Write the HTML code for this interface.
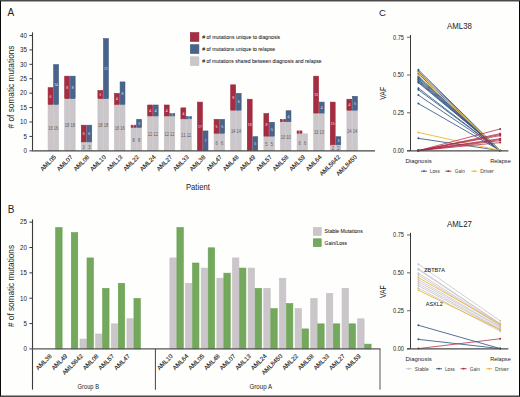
<!DOCTYPE html>
<html><head><meta charset="utf-8"><style>
html,body{margin:0;padding:0;background:#fefefd;}
body{width:520px;height:397px;overflow:hidden;}
svg{display:block;font-family:"Liberation Sans", sans-serif;}
</style></head><body>
<svg width="520" height="397" viewBox="0 0 520 397">
<rect width="520" height="397" fill="#fefefd"/>
<text x="7.40" y="15.60" font-size="10" fill="#222"  text-anchor="start" >A</text>
<line x1="32.5" y1="32.4" x2="32.5" y2="150.3" stroke="#3a3a3a" stroke-width="1.1"/>
<line x1="29.4" y1="150.85" x2="32.4" y2="150.85" stroke="#3a3a3a" stroke-width="1"/>
<text x="27.00" y="153.15" font-size="6.4" fill="#222"  text-anchor="end" textLength="3.45" lengthAdjust="spacingAndGlyphs">0</text>
<line x1="29.4" y1="136.43" x2="32.4" y2="136.43" stroke="#3a3a3a" stroke-width="1"/>
<text x="27.00" y="138.73" font-size="6.4" fill="#222"  text-anchor="end" textLength="3.45" lengthAdjust="spacingAndGlyphs">5</text>
<line x1="29.4" y1="122.01" x2="32.4" y2="122.01" stroke="#3a3a3a" stroke-width="1"/>
<text x="27.00" y="124.31" font-size="6.4" fill="#222"  text-anchor="end" textLength="6.90" lengthAdjust="spacingAndGlyphs">10</text>
<line x1="29.4" y1="107.59" x2="32.4" y2="107.59" stroke="#3a3a3a" stroke-width="1"/>
<text x="27.00" y="109.89" font-size="6.4" fill="#222"  text-anchor="end" textLength="6.90" lengthAdjust="spacingAndGlyphs">15</text>
<line x1="29.4" y1="93.17" x2="32.4" y2="93.17" stroke="#3a3a3a" stroke-width="1"/>
<text x="27.00" y="95.47" font-size="6.4" fill="#222"  text-anchor="end" textLength="6.90" lengthAdjust="spacingAndGlyphs">20</text>
<line x1="29.4" y1="78.75" x2="32.4" y2="78.75" stroke="#3a3a3a" stroke-width="1"/>
<text x="27.00" y="81.05" font-size="6.4" fill="#222"  text-anchor="end" textLength="6.90" lengthAdjust="spacingAndGlyphs">25</text>
<line x1="29.4" y1="64.33" x2="32.4" y2="64.33" stroke="#3a3a3a" stroke-width="1"/>
<text x="27.00" y="66.63" font-size="6.4" fill="#222"  text-anchor="end" textLength="6.90" lengthAdjust="spacingAndGlyphs">30</text>
<line x1="29.4" y1="49.91" x2="32.4" y2="49.91" stroke="#3a3a3a" stroke-width="1"/>
<text x="27.00" y="52.21" font-size="6.4" fill="#222"  text-anchor="end" textLength="6.90" lengthAdjust="spacingAndGlyphs">35</text>
<line x1="29.4" y1="35.49" x2="32.4" y2="35.49" stroke="#3a3a3a" stroke-width="1"/>
<text x="27.00" y="37.79" font-size="6.4" fill="#222"  text-anchor="end" textLength="6.90" lengthAdjust="spacingAndGlyphs">40</text>
<text transform="translate(14.3,87) rotate(-90)" font-size="8.2" fill="#222" text-anchor="middle" textLength="83" lengthAdjust="spacingAndGlyphs">#&#160;of somatic mutations</text>
<rect x="48.10" y="105.01" width="4.85" height="45.54" fill="#cbc6ca" stroke="#c4bfc3" stroke-width="0.6"/>
<text x="50.52" y="130.08" font-size="5.1" fill="#5e595c"  text-anchor="middle" textLength="4.5" lengthAdjust="spacingAndGlyphs">16</text>
<rect x="53.70" y="105.01" width="4.85" height="45.54" fill="#cbc6ca" stroke="#c4bfc3" stroke-width="0.6"/>
<text x="56.12" y="130.08" font-size="5.1" fill="#5e595c"  text-anchor="middle" textLength="4.5" lengthAdjust="spacingAndGlyphs">16</text>
<rect x="48.10" y="87.70" width="4.85" height="16.70" fill="#a52d42" stroke="#982236" stroke-width="0.6"/>
<text x="50.52" y="97.55" font-size="4.3" fill="#ecc8ce" stroke="#ecc8ce" stroke-width="0.08" text-anchor="middle" textLength="1.9" lengthAdjust="spacingAndGlyphs">6</text>
<rect x="53.70" y="64.63" width="4.85" height="39.78" fill="#4a638a" stroke="#3d5880" stroke-width="0.6"/>
<text x="56.12" y="86.02" font-size="4.3" fill="#c8d3e2" stroke="#c8d3e2" stroke-width="0.08" text-anchor="middle" textLength="3.8" lengthAdjust="spacingAndGlyphs">14</text>
<text transform="translate(56.55,157.6) rotate(-45)" font-size="6.2" fill="#222" stroke="#222" stroke-width="0.12" text-anchor="end">AML05</text>
<rect x="64.70" y="99.24" width="4.85" height="51.31" fill="#cbc6ca" stroke="#c4bfc3" stroke-width="0.6"/>
<text x="67.12" y="127.19" font-size="5.1" fill="#5e595c"  text-anchor="middle" textLength="4.5" lengthAdjust="spacingAndGlyphs">18</text>
<rect x="70.30" y="99.24" width="4.85" height="51.31" fill="#cbc6ca" stroke="#c4bfc3" stroke-width="0.6"/>
<text x="72.72" y="127.19" font-size="5.1" fill="#5e595c"  text-anchor="middle" textLength="4.5" lengthAdjust="spacingAndGlyphs">18</text>
<rect x="64.70" y="76.17" width="4.85" height="22.47" fill="#a52d42" stroke="#982236" stroke-width="0.6"/>
<text x="67.12" y="88.90" font-size="4.3" fill="#ecc8ce" stroke="#ecc8ce" stroke-width="0.08" text-anchor="middle" textLength="1.9" lengthAdjust="spacingAndGlyphs">8</text>
<rect x="70.30" y="76.17" width="4.85" height="22.47" fill="#4a638a" stroke="#3d5880" stroke-width="0.6"/>
<text x="72.72" y="88.90" font-size="4.3" fill="#c8d3e2" stroke="#c8d3e2" stroke-width="0.08" text-anchor="middle" textLength="1.9" lengthAdjust="spacingAndGlyphs">8</text>
<text transform="translate(73.15,157.6) rotate(-45)" font-size="6.2" fill="#222" stroke="#222" stroke-width="0.12" text-anchor="end">AML07</text>
<rect x="81.30" y="142.50" width="4.85" height="8.05" fill="#cbc6ca" stroke="#c4bfc3" stroke-width="0.6"/>
<text x="83.72" y="148.82" font-size="5.1" fill="#5e595c"  text-anchor="middle" textLength="2.2" lengthAdjust="spacingAndGlyphs">3</text>
<rect x="86.90" y="142.50" width="4.85" height="8.05" fill="#cbc6ca" stroke="#c4bfc3" stroke-width="0.6"/>
<text x="89.32" y="148.82" font-size="5.1" fill="#5e595c"  text-anchor="middle" textLength="2.2" lengthAdjust="spacingAndGlyphs">3</text>
<rect x="81.30" y="125.19" width="4.85" height="16.70" fill="#a52d42" stroke="#982236" stroke-width="0.6"/>
<text x="83.72" y="135.05" font-size="4.3" fill="#ecc8ce" stroke="#ecc8ce" stroke-width="0.08" text-anchor="middle" textLength="1.9" lengthAdjust="spacingAndGlyphs">6</text>
<rect x="86.90" y="125.19" width="4.85" height="16.70" fill="#4a638a" stroke="#3d5880" stroke-width="0.6"/>
<text x="89.32" y="135.05" font-size="4.3" fill="#c8d3e2" stroke="#c8d3e2" stroke-width="0.08" text-anchor="middle" textLength="1.9" lengthAdjust="spacingAndGlyphs">6</text>
<text transform="translate(89.75,157.6) rotate(-45)" font-size="6.2" fill="#222" stroke="#222" stroke-width="0.12" text-anchor="end">AML08</text>
<rect x="97.90" y="99.24" width="4.85" height="51.31" fill="#cbc6ca" stroke="#c4bfc3" stroke-width="0.6"/>
<text x="100.32" y="127.19" font-size="5.1" fill="#5e595c"  text-anchor="middle" textLength="4.5" lengthAdjust="spacingAndGlyphs">18</text>
<rect x="103.50" y="99.24" width="4.85" height="51.31" fill="#cbc6ca" stroke="#c4bfc3" stroke-width="0.6"/>
<text x="105.92" y="127.19" font-size="5.1" fill="#5e595c"  text-anchor="middle" textLength="4.5" lengthAdjust="spacingAndGlyphs">18</text>
<rect x="97.90" y="90.59" width="4.85" height="8.05" fill="#a52d42" stroke="#982236" stroke-width="0.6"/>
<text x="100.32" y="96.11" font-size="4.3" fill="#ecc8ce" stroke="#ecc8ce" stroke-width="0.08" text-anchor="middle" textLength="1.9" lengthAdjust="spacingAndGlyphs">3</text>
<rect x="103.50" y="38.67" width="4.85" height="59.96" fill="#4a638a" stroke="#3d5880" stroke-width="0.6"/>
<text x="105.92" y="70.16" font-size="4.3" fill="#c8d3e2" stroke="#c8d3e2" stroke-width="0.08" text-anchor="middle" textLength="3.8" lengthAdjust="spacingAndGlyphs">21</text>
<text transform="translate(106.35,157.6) rotate(-45)" font-size="6.2" fill="#222" stroke="#222" stroke-width="0.12" text-anchor="end">AML10</text>
<rect x="114.50" y="105.01" width="4.85" height="45.54" fill="#cbc6ca" stroke="#c4bfc3" stroke-width="0.6"/>
<text x="116.92" y="130.08" font-size="5.1" fill="#5e595c"  text-anchor="middle" textLength="4.5" lengthAdjust="spacingAndGlyphs">16</text>
<rect x="120.10" y="105.01" width="4.85" height="45.54" fill="#cbc6ca" stroke="#c4bfc3" stroke-width="0.6"/>
<text x="122.52" y="130.08" font-size="5.1" fill="#5e595c"  text-anchor="middle" textLength="4.5" lengthAdjust="spacingAndGlyphs">16</text>
<rect x="114.50" y="93.47" width="4.85" height="10.94" fill="#a52d42" stroke="#982236" stroke-width="0.6"/>
<text x="116.92" y="100.44" font-size="4.3" fill="#ecc8ce" stroke="#ecc8ce" stroke-width="0.08" text-anchor="middle" textLength="1.9" lengthAdjust="spacingAndGlyphs">4</text>
<rect x="120.10" y="81.93" width="4.85" height="22.47" fill="#4a638a" stroke="#3d5880" stroke-width="0.6"/>
<text x="122.52" y="94.67" font-size="4.3" fill="#c8d3e2" stroke="#c8d3e2" stroke-width="0.08" text-anchor="middle" textLength="1.9" lengthAdjust="spacingAndGlyphs">8</text>
<text transform="translate(122.95,157.6) rotate(-45)" font-size="6.2" fill="#222" stroke="#222" stroke-width="0.12" text-anchor="end">AML13</text>
<rect x="131.10" y="128.08" width="4.85" height="22.47" fill="#cbc6ca" stroke="#c4bfc3" stroke-width="0.6"/>
<text x="133.53" y="141.61" font-size="5.1" fill="#5e595c"  text-anchor="middle" textLength="2.2" lengthAdjust="spacingAndGlyphs">8</text>
<rect x="136.70" y="128.08" width="4.85" height="22.47" fill="#cbc6ca" stroke="#c4bfc3" stroke-width="0.6"/>
<text x="139.12" y="141.61" font-size="5.1" fill="#5e595c"  text-anchor="middle" textLength="2.2" lengthAdjust="spacingAndGlyphs">8</text>
<rect x="131.10" y="125.19" width="4.85" height="2.28" fill="#a52d42" stroke="#982236" stroke-width="0.6"/>
<text x="133.53" y="127.84" font-size="4.3" fill="#ecc8ce" stroke="#ecc8ce" stroke-width="0.08" text-anchor="middle" textLength="1.9" lengthAdjust="spacingAndGlyphs">1</text>
<rect x="136.70" y="119.43" width="4.85" height="8.05" fill="#4a638a" stroke="#3d5880" stroke-width="0.6"/>
<text x="139.12" y="124.95" font-size="4.3" fill="#c8d3e2" stroke="#c8d3e2" stroke-width="0.08" text-anchor="middle" textLength="1.9" lengthAdjust="spacingAndGlyphs">3</text>
<text transform="translate(139.55,157.6) rotate(-45)" font-size="6.2" fill="#222" stroke="#222" stroke-width="0.12" text-anchor="end">AML22</text>
<rect x="147.70" y="116.54" width="4.85" height="34.01" fill="#cbc6ca" stroke="#c4bfc3" stroke-width="0.6"/>
<text x="150.12" y="135.85" font-size="5.1" fill="#5e595c"  text-anchor="middle" textLength="4.5" lengthAdjust="spacingAndGlyphs">12</text>
<rect x="153.30" y="116.54" width="4.85" height="34.01" fill="#cbc6ca" stroke="#c4bfc3" stroke-width="0.6"/>
<text x="155.72" y="135.85" font-size="5.1" fill="#5e595c"  text-anchor="middle" textLength="4.5" lengthAdjust="spacingAndGlyphs">12</text>
<rect x="147.70" y="105.01" width="4.85" height="10.94" fill="#a52d42" stroke="#982236" stroke-width="0.6"/>
<text x="150.12" y="111.97" font-size="4.3" fill="#ecc8ce" stroke="#ecc8ce" stroke-width="0.08" text-anchor="middle" textLength="1.9" lengthAdjust="spacingAndGlyphs">4</text>
<rect x="153.30" y="105.01" width="4.85" height="10.94" fill="#4a638a" stroke="#3d5880" stroke-width="0.6"/>
<text x="155.72" y="111.97" font-size="4.3" fill="#c8d3e2" stroke="#c8d3e2" stroke-width="0.08" text-anchor="middle" textLength="1.9" lengthAdjust="spacingAndGlyphs">4</text>
<text transform="translate(156.15,157.6) rotate(-45)" font-size="6.2" fill="#222" stroke="#222" stroke-width="0.12" text-anchor="end">AML24</text>
<rect x="164.30" y="116.54" width="4.85" height="34.01" fill="#cbc6ca" stroke="#c4bfc3" stroke-width="0.6"/>
<text x="166.72" y="135.85" font-size="5.1" fill="#5e595c"  text-anchor="middle" textLength="4.5" lengthAdjust="spacingAndGlyphs">12</text>
<rect x="169.90" y="116.54" width="4.85" height="34.01" fill="#cbc6ca" stroke="#c4bfc3" stroke-width="0.6"/>
<text x="172.32" y="135.85" font-size="5.1" fill="#5e595c"  text-anchor="middle" textLength="4.5" lengthAdjust="spacingAndGlyphs">12</text>
<rect x="164.30" y="105.01" width="4.85" height="10.94" fill="#a52d42" stroke="#982236" stroke-width="0.6"/>
<text x="166.72" y="111.97" font-size="4.3" fill="#ecc8ce" stroke="#ecc8ce" stroke-width="0.08" text-anchor="middle" textLength="1.9" lengthAdjust="spacingAndGlyphs">4</text>
<rect x="169.90" y="113.66" width="4.85" height="2.28" fill="#4a638a" stroke="#3d5880" stroke-width="0.6"/>
<text x="172.32" y="116.30" font-size="4.3" fill="#c8d3e2" stroke="#c8d3e2" stroke-width="0.08" text-anchor="middle" textLength="1.9" lengthAdjust="spacingAndGlyphs">1</text>
<text transform="translate(172.75,157.6) rotate(-45)" font-size="6.2" fill="#222" stroke="#222" stroke-width="0.12" text-anchor="end">AML27</text>
<rect x="180.90" y="119.43" width="4.85" height="31.12" fill="#cbc6ca" stroke="#c4bfc3" stroke-width="0.6"/>
<text x="183.33" y="137.29" font-size="5.1" fill="#5e595c"  text-anchor="middle" textLength="4.5" lengthAdjust="spacingAndGlyphs">11</text>
<rect x="186.50" y="119.43" width="4.85" height="31.12" fill="#cbc6ca" stroke="#c4bfc3" stroke-width="0.6"/>
<text x="188.93" y="137.29" font-size="5.1" fill="#5e595c"  text-anchor="middle" textLength="4.5" lengthAdjust="spacingAndGlyphs">11</text>
<rect x="180.90" y="107.89" width="4.85" height="10.94" fill="#a52d42" stroke="#982236" stroke-width="0.6"/>
<text x="183.33" y="114.86" font-size="4.3" fill="#ecc8ce" stroke="#ecc8ce" stroke-width="0.08" text-anchor="middle" textLength="1.9" lengthAdjust="spacingAndGlyphs">4</text>
<rect x="186.50" y="116.54" width="4.85" height="2.28" fill="#4a638a" stroke="#3d5880" stroke-width="0.6"/>
<text x="188.93" y="119.18" font-size="4.3" fill="#c8d3e2" stroke="#c8d3e2" stroke-width="0.08" text-anchor="middle" textLength="1.9" lengthAdjust="spacingAndGlyphs">1</text>
<text transform="translate(189.35,157.6) rotate(-45)" font-size="6.2" fill="#222" stroke="#222" stroke-width="0.12" text-anchor="end">AML33</text>
<rect x="197.50" y="102.12" width="4.85" height="48.43" fill="#a52d42" stroke="#982236" stroke-width="0.6"/>
<text x="199.92" y="127.84" font-size="4.3" fill="#ecc8ce" stroke="#ecc8ce" stroke-width="0.08" text-anchor="middle" textLength="3.8" lengthAdjust="spacingAndGlyphs">17</text>
<rect x="203.10" y="130.96" width="4.85" height="19.59" fill="#4a638a" stroke="#3d5880" stroke-width="0.6"/>
<text x="205.52" y="142.26" font-size="4.3" fill="#c8d3e2" stroke="#c8d3e2" stroke-width="0.08" text-anchor="middle" textLength="1.9" lengthAdjust="spacingAndGlyphs">7</text>
<text transform="translate(205.95,157.6) rotate(-45)" font-size="6.2" fill="#222" stroke="#222" stroke-width="0.12" text-anchor="end">AML38</text>
<rect x="214.10" y="133.85" width="4.85" height="16.70" fill="#cbc6ca" stroke="#c4bfc3" stroke-width="0.6"/>
<text x="216.53" y="144.50" font-size="5.1" fill="#5e595c"  text-anchor="middle" textLength="2.2" lengthAdjust="spacingAndGlyphs">6</text>
<rect x="219.70" y="133.85" width="4.85" height="16.70" fill="#cbc6ca" stroke="#c4bfc3" stroke-width="0.6"/>
<text x="222.12" y="144.50" font-size="5.1" fill="#5e595c"  text-anchor="middle" textLength="2.2" lengthAdjust="spacingAndGlyphs">6</text>
<rect x="214.10" y="119.43" width="4.85" height="13.82" fill="#a52d42" stroke="#982236" stroke-width="0.6"/>
<text x="216.53" y="127.84" font-size="4.3" fill="#ecc8ce" stroke="#ecc8ce" stroke-width="0.08" text-anchor="middle" textLength="1.9" lengthAdjust="spacingAndGlyphs">5</text>
<rect x="219.70" y="119.43" width="4.85" height="13.82" fill="#4a638a" stroke="#3d5880" stroke-width="0.6"/>
<text x="222.12" y="127.84" font-size="4.3" fill="#c8d3e2" stroke="#c8d3e2" stroke-width="0.08" text-anchor="middle" textLength="1.9" lengthAdjust="spacingAndGlyphs">5</text>
<text transform="translate(222.55,157.6) rotate(-45)" font-size="6.2" fill="#222" stroke="#222" stroke-width="0.12" text-anchor="end">AML47</text>
<rect x="230.70" y="110.77" width="4.85" height="39.78" fill="#cbc6ca" stroke="#c4bfc3" stroke-width="0.6"/>
<text x="233.13" y="132.96" font-size="5.1" fill="#5e595c"  text-anchor="middle" textLength="4.5" lengthAdjust="spacingAndGlyphs">14</text>
<rect x="236.30" y="110.77" width="4.85" height="39.78" fill="#cbc6ca" stroke="#c4bfc3" stroke-width="0.6"/>
<text x="238.73" y="132.96" font-size="5.1" fill="#5e595c"  text-anchor="middle" textLength="4.5" lengthAdjust="spacingAndGlyphs">14</text>
<rect x="230.70" y="84.82" width="4.85" height="25.36" fill="#a52d42" stroke="#982236" stroke-width="0.6"/>
<text x="233.13" y="99.00" font-size="4.3" fill="#ecc8ce" stroke="#ecc8ce" stroke-width="0.08" text-anchor="middle" textLength="1.9" lengthAdjust="spacingAndGlyphs">9</text>
<rect x="236.30" y="93.47" width="4.85" height="16.70" fill="#4a638a" stroke="#3d5880" stroke-width="0.6"/>
<text x="238.73" y="103.32" font-size="4.3" fill="#c8d3e2" stroke="#c8d3e2" stroke-width="0.08" text-anchor="middle" textLength="1.9" lengthAdjust="spacingAndGlyphs">6</text>
<text transform="translate(239.15,157.6) rotate(-45)" font-size="6.2" fill="#222" stroke="#222" stroke-width="0.12" text-anchor="end">AML48</text>
<rect x="247.30" y="99.24" width="4.85" height="51.31" fill="#a52d42" stroke="#982236" stroke-width="0.6"/>
<text x="249.72" y="126.39" font-size="4.3" fill="#ecc8ce" stroke="#ecc8ce" stroke-width="0.08" text-anchor="middle" textLength="3.8" lengthAdjust="spacingAndGlyphs">18</text>
<rect x="252.90" y="136.73" width="4.85" height="13.82" fill="#4a638a" stroke="#3d5880" stroke-width="0.6"/>
<text x="255.32" y="145.14" font-size="4.3" fill="#c8d3e2" stroke="#c8d3e2" stroke-width="0.08" text-anchor="middle" textLength="1.9" lengthAdjust="spacingAndGlyphs">5</text>
<text transform="translate(255.75,157.6) rotate(-45)" font-size="6.2" fill="#222" stroke="#222" stroke-width="0.12" text-anchor="end">AML49</text>
<rect x="263.90" y="136.73" width="4.85" height="13.82" fill="#cbc6ca" stroke="#c4bfc3" stroke-width="0.6"/>
<text x="266.33" y="145.94" font-size="5.1" fill="#5e595c"  text-anchor="middle" textLength="2.2" lengthAdjust="spacingAndGlyphs">5</text>
<rect x="269.50" y="136.73" width="4.85" height="13.82" fill="#cbc6ca" stroke="#c4bfc3" stroke-width="0.6"/>
<text x="271.93" y="145.94" font-size="5.1" fill="#5e595c"  text-anchor="middle" textLength="2.2" lengthAdjust="spacingAndGlyphs">5</text>
<rect x="263.90" y="113.66" width="4.85" height="22.47" fill="#a52d42" stroke="#982236" stroke-width="0.6"/>
<text x="266.33" y="126.39" font-size="4.3" fill="#ecc8ce" stroke="#ecc8ce" stroke-width="0.08" text-anchor="middle" textLength="1.9" lengthAdjust="spacingAndGlyphs">8</text>
<rect x="269.50" y="122.31" width="4.85" height="13.82" fill="#4a638a" stroke="#3d5880" stroke-width="0.6"/>
<text x="271.93" y="130.72" font-size="4.3" fill="#c8d3e2" stroke="#c8d3e2" stroke-width="0.08" text-anchor="middle" textLength="1.9" lengthAdjust="spacingAndGlyphs">5</text>
<text transform="translate(272.35,157.6) rotate(-45)" font-size="6.2" fill="#222" stroke="#222" stroke-width="0.12" text-anchor="end">AML57</text>
<rect x="280.50" y="122.31" width="4.85" height="28.24" fill="#cbc6ca" stroke="#c4bfc3" stroke-width="0.6"/>
<text x="282.93" y="138.73" font-size="5.1" fill="#5e595c"  text-anchor="middle" textLength="4.5" lengthAdjust="spacingAndGlyphs">10</text>
<rect x="286.10" y="122.31" width="4.85" height="28.24" fill="#cbc6ca" stroke="#c4bfc3" stroke-width="0.6"/>
<text x="288.53" y="138.73" font-size="5.1" fill="#5e595c"  text-anchor="middle" textLength="4.5" lengthAdjust="spacingAndGlyphs">10</text>
<rect x="280.50" y="119.43" width="4.85" height="2.28" fill="#a52d42" stroke="#982236" stroke-width="0.6"/>
<text x="282.93" y="122.07" font-size="4.3" fill="#ecc8ce" stroke="#ecc8ce" stroke-width="0.08" text-anchor="middle" textLength="1.9" lengthAdjust="spacingAndGlyphs">1</text>
<rect x="286.10" y="110.77" width="4.85" height="10.94" fill="#4a638a" stroke="#3d5880" stroke-width="0.6"/>
<text x="288.53" y="117.74" font-size="4.3" fill="#c8d3e2" stroke="#c8d3e2" stroke-width="0.08" text-anchor="middle" textLength="1.9" lengthAdjust="spacingAndGlyphs">4</text>
<text transform="translate(288.95,157.6) rotate(-45)" font-size="6.2" fill="#222" stroke="#222" stroke-width="0.12" text-anchor="end">AML58</text>
<rect x="297.10" y="133.85" width="4.85" height="16.70" fill="#cbc6ca" stroke="#c4bfc3" stroke-width="0.6"/>
<text x="299.53" y="144.50" font-size="5.1" fill="#5e595c"  text-anchor="middle" textLength="2.2" lengthAdjust="spacingAndGlyphs">6</text>
<rect x="302.70" y="133.85" width="4.85" height="16.70" fill="#cbc6ca" stroke="#c4bfc3" stroke-width="0.6"/>
<text x="305.13" y="144.50" font-size="5.1" fill="#5e595c"  text-anchor="middle" textLength="2.2" lengthAdjust="spacingAndGlyphs">6</text>
<rect x="297.10" y="130.96" width="4.85" height="2.28" fill="#a52d42" stroke="#982236" stroke-width="0.6"/>
<text x="299.53" y="133.60" font-size="4.3" fill="#ecc8ce" stroke="#ecc8ce" stroke-width="0.08" text-anchor="middle" textLength="1.9" lengthAdjust="spacingAndGlyphs">1</text>
<text transform="translate(305.55,157.6) rotate(-45)" font-size="6.2" fill="#222" stroke="#222" stroke-width="0.12" text-anchor="end">AML59</text>
<rect x="313.70" y="113.66" width="4.85" height="36.89" fill="#cbc6ca" stroke="#c4bfc3" stroke-width="0.6"/>
<text x="316.13" y="134.40" font-size="5.1" fill="#5e595c"  text-anchor="middle" textLength="4.5" lengthAdjust="spacingAndGlyphs">13</text>
<rect x="319.30" y="113.66" width="4.85" height="36.89" fill="#cbc6ca" stroke="#c4bfc3" stroke-width="0.6"/>
<text x="321.73" y="134.40" font-size="5.1" fill="#5e595c"  text-anchor="middle" textLength="4.5" lengthAdjust="spacingAndGlyphs">13</text>
<rect x="313.70" y="76.17" width="4.85" height="36.89" fill="#a52d42" stroke="#982236" stroke-width="0.6"/>
<text x="316.13" y="96.11" font-size="4.3" fill="#ecc8ce" stroke="#ecc8ce" stroke-width="0.08" text-anchor="middle" textLength="3.8" lengthAdjust="spacingAndGlyphs">13</text>
<rect x="319.30" y="102.12" width="4.85" height="10.94" fill="#4a638a" stroke="#3d5880" stroke-width="0.6"/>
<text x="321.73" y="109.09" font-size="4.3" fill="#c8d3e2" stroke="#c8d3e2" stroke-width="0.08" text-anchor="middle" textLength="1.9" lengthAdjust="spacingAndGlyphs">4</text>
<text transform="translate(322.15,157.6) rotate(-45)" font-size="6.2" fill="#222" stroke="#222" stroke-width="0.12" text-anchor="end">AML64</text>
<rect x="330.30" y="145.38" width="4.85" height="5.17" fill="#cbc6ca" stroke="#c4bfc3" stroke-width="0.6"/>
<text x="332.73" y="150.27" font-size="5.1" fill="#5e595c"  text-anchor="middle" textLength="2.2" lengthAdjust="spacingAndGlyphs">2</text>
<rect x="335.90" y="145.38" width="4.85" height="5.17" fill="#cbc6ca" stroke="#c4bfc3" stroke-width="0.6"/>
<text x="338.33" y="150.27" font-size="5.1" fill="#5e595c"  text-anchor="middle" textLength="2.2" lengthAdjust="spacingAndGlyphs">2</text>
<rect x="330.30" y="102.12" width="4.85" height="42.66" fill="#a52d42" stroke="#982236" stroke-width="0.6"/>
<text x="332.73" y="124.95" font-size="4.3" fill="#ecc8ce" stroke="#ecc8ce" stroke-width="0.08" text-anchor="middle" textLength="3.8" lengthAdjust="spacingAndGlyphs">15</text>
<rect x="335.90" y="136.73" width="4.85" height="8.05" fill="#4a638a" stroke="#3d5880" stroke-width="0.6"/>
<text x="338.33" y="142.26" font-size="4.3" fill="#c8d3e2" stroke="#c8d3e2" stroke-width="0.08" text-anchor="middle" textLength="1.9" lengthAdjust="spacingAndGlyphs">3</text>
<text transform="translate(340.75,157.6) rotate(-45)" font-size="6.2" fill="#222" stroke="#222" stroke-width="0.12" text-anchor="end">AML5642</text>
<rect x="346.90" y="110.77" width="4.85" height="39.78" fill="#cbc6ca" stroke="#c4bfc3" stroke-width="0.6"/>
<text x="349.33" y="132.96" font-size="5.1" fill="#5e595c"  text-anchor="middle" textLength="4.5" lengthAdjust="spacingAndGlyphs">14</text>
<rect x="352.50" y="110.77" width="4.85" height="39.78" fill="#cbc6ca" stroke="#c4bfc3" stroke-width="0.6"/>
<text x="354.93" y="132.96" font-size="5.1" fill="#5e595c"  text-anchor="middle" textLength="4.5" lengthAdjust="spacingAndGlyphs">14</text>
<rect x="346.90" y="99.24" width="4.85" height="10.94" fill="#a52d42" stroke="#982236" stroke-width="0.6"/>
<text x="349.33" y="106.21" font-size="4.3" fill="#ecc8ce" stroke="#ecc8ce" stroke-width="0.08" text-anchor="middle" textLength="1.9" lengthAdjust="spacingAndGlyphs">4</text>
<rect x="352.50" y="96.35" width="4.85" height="13.82" fill="#4a638a" stroke="#3d5880" stroke-width="0.6"/>
<text x="354.93" y="104.76" font-size="4.3" fill="#c8d3e2" stroke="#c8d3e2" stroke-width="0.08" text-anchor="middle" textLength="1.9" lengthAdjust="spacingAndGlyphs">5</text>
<text transform="translate(357.35,157.6) rotate(-45)" font-size="6.2" fill="#222" stroke="#222" stroke-width="0.12" text-anchor="end">AML8450</text>
<line x1="32" y1="150.85" x2="375" y2="150.85" stroke="#444" stroke-width="1.4"/>
<text x="186.00" y="189.60" font-size="8.4" fill="#222"  text-anchor="start" textLength="23.8" lengthAdjust="spacingAndGlyphs">Patient</text>
<rect x="190.3" y="32.60" width="8.6" height="8.8" fill="#a52d42" stroke="#982236" stroke-width="0.6"/>
<text x="202.20" y="38.90" font-size="5.6" fill="#222" stroke="#222" stroke-width="0.06" text-anchor="start" textLength="78" lengthAdjust="spacingAndGlyphs">#&#160;of mutations unique to diagnosis</text>
<rect x="190.3" y="44.70" width="8.6" height="8.8" fill="#4a638a" stroke="#3d5880" stroke-width="0.6"/>
<text x="202.20" y="51.00" font-size="5.6" fill="#222" stroke="#222" stroke-width="0.06" text-anchor="start" textLength="73" lengthAdjust="spacingAndGlyphs">#&#160;of mutations unique to relapse</text>
<rect x="190.3" y="56.80" width="8.6" height="8.8" fill="#cbc6ca" stroke="#c4bfc3" stroke-width="0.6"/>
<text x="202.20" y="63.10" font-size="5.6" fill="#222" stroke="#222" stroke-width="0.06" text-anchor="start" textLength="119.4" lengthAdjust="spacingAndGlyphs">#&#160;of mutations shared between diagnosis and relapse</text>
<text x="7.80" y="212.60" font-size="10" fill="#222"  text-anchor="start" >B</text>
<line x1="32.5" y1="219.4" x2="32.5" y2="389.6" stroke="#3a3a3a" stroke-width="1.1"/>
<line x1="29.4" y1="348.90" x2="32.4" y2="348.90" stroke="#3a3a3a" stroke-width="1"/>
<text x="27.00" y="351.20" font-size="6.4" fill="#222"  text-anchor="end" textLength="3.45" lengthAdjust="spacingAndGlyphs">0</text>
<line x1="29.4" y1="323.55" x2="32.4" y2="323.55" stroke="#3a3a3a" stroke-width="1"/>
<text x="27.00" y="325.85" font-size="6.4" fill="#222"  text-anchor="end" textLength="3.45" lengthAdjust="spacingAndGlyphs">5</text>
<line x1="29.4" y1="298.20" x2="32.4" y2="298.20" stroke="#3a3a3a" stroke-width="1"/>
<text x="27.00" y="300.50" font-size="6.4" fill="#222"  text-anchor="end" textLength="6.90" lengthAdjust="spacingAndGlyphs">10</text>
<line x1="29.4" y1="272.85" x2="32.4" y2="272.85" stroke="#3a3a3a" stroke-width="1"/>
<text x="27.00" y="275.15" font-size="6.4" fill="#222"  text-anchor="end" textLength="6.90" lengthAdjust="spacingAndGlyphs">15</text>
<line x1="29.4" y1="247.50" x2="32.4" y2="247.50" stroke="#3a3a3a" stroke-width="1"/>
<text x="27.00" y="249.80" font-size="6.4" fill="#222"  text-anchor="end" textLength="6.90" lengthAdjust="spacingAndGlyphs">20</text>
<line x1="29.4" y1="222.15" x2="32.4" y2="222.15" stroke="#3a3a3a" stroke-width="1"/>
<text x="27.00" y="224.45" font-size="6.4" fill="#222"  text-anchor="end" textLength="6.90" lengthAdjust="spacingAndGlyphs">25</text>
<text transform="translate(14.3,286) rotate(-90)" font-size="8.2" fill="#222" text-anchor="middle" textLength="82" lengthAdjust="spacingAndGlyphs">#&#160;of somatic mutations</text>
<rect x="55.70" y="227.52" width="6.40" height="121.38" fill="#74a85c" stroke="#68a04e" stroke-width="0.6"/>
<text transform="translate(52.10,356.6) rotate(-45)" font-size="6.2" fill="#222" stroke="#222" stroke-width="0.12" text-anchor="end">AML38</text>
<rect x="71.35" y="232.59" width="6.40" height="116.31" fill="#74a85c" stroke="#68a04e" stroke-width="0.6"/>
<text transform="translate(67.75,356.6) rotate(-45)" font-size="6.2" fill="#222" stroke="#222" stroke-width="0.12" text-anchor="end">AML49</text>
<rect x="80.00" y="339.06" width="6.40" height="9.84" fill="#cbc6ca" stroke="#c4bfc3" stroke-width="0.6"/>
<rect x="87.00" y="257.94" width="6.40" height="90.96" fill="#74a85c" stroke="#68a04e" stroke-width="0.6"/>
<text transform="translate(83.40,356.6) rotate(-45)" font-size="6.2" fill="#222" stroke="#222" stroke-width="0.12" text-anchor="end">AML5642</text>
<rect x="95.65" y="333.99" width="6.40" height="14.91" fill="#cbc6ca" stroke="#c4bfc3" stroke-width="0.6"/>
<rect x="102.65" y="288.36" width="6.40" height="60.54" fill="#74a85c" stroke="#68a04e" stroke-width="0.6"/>
<text transform="translate(99.05,356.6) rotate(-45)" font-size="6.2" fill="#222" stroke="#222" stroke-width="0.12" text-anchor="end">AML08</text>
<rect x="111.30" y="323.85" width="6.40" height="25.05" fill="#cbc6ca" stroke="#c4bfc3" stroke-width="0.6"/>
<rect x="118.30" y="283.29" width="6.40" height="65.61" fill="#74a85c" stroke="#68a04e" stroke-width="0.6"/>
<text transform="translate(114.70,356.6) rotate(-45)" font-size="6.2" fill="#222" stroke="#222" stroke-width="0.12" text-anchor="end">AML57</text>
<rect x="126.95" y="318.78" width="6.40" height="30.12" fill="#cbc6ca" stroke="#c4bfc3" stroke-width="0.6"/>
<rect x="133.95" y="298.50" width="6.40" height="50.40" fill="#74a85c" stroke="#68a04e" stroke-width="0.6"/>
<text transform="translate(130.35,356.6) rotate(-45)" font-size="6.2" fill="#222" stroke="#222" stroke-width="0.12" text-anchor="end">AML47</text>
<rect x="169.90" y="257.94" width="6.40" height="90.96" fill="#cbc6ca" stroke="#c4bfc3" stroke-width="0.6"/>
<rect x="176.90" y="227.52" width="6.40" height="121.38" fill="#74a85c" stroke="#68a04e" stroke-width="0.6"/>
<text transform="translate(173.30,356.6) rotate(-45)" font-size="6.2" fill="#222" stroke="#222" stroke-width="0.12" text-anchor="end">AML10</text>
<rect x="185.55" y="283.29" width="6.40" height="65.61" fill="#cbc6ca" stroke="#c4bfc3" stroke-width="0.6"/>
<rect x="192.55" y="263.01" width="6.40" height="85.89" fill="#74a85c" stroke="#68a04e" stroke-width="0.6"/>
<text transform="translate(188.95,356.6) rotate(-45)" font-size="6.2" fill="#222" stroke="#222" stroke-width="0.12" text-anchor="end">AML64</text>
<rect x="201.20" y="268.08" width="6.40" height="80.82" fill="#cbc6ca" stroke="#c4bfc3" stroke-width="0.6"/>
<rect x="208.20" y="247.80" width="6.40" height="101.10" fill="#74a85c" stroke="#68a04e" stroke-width="0.6"/>
<text transform="translate(204.60,356.6) rotate(-45)" font-size="6.2" fill="#222" stroke="#222" stroke-width="0.12" text-anchor="end">AML05</text>
<rect x="216.85" y="278.22" width="6.40" height="70.68" fill="#cbc6ca" stroke="#c4bfc3" stroke-width="0.6"/>
<rect x="223.85" y="273.15" width="6.40" height="75.75" fill="#74a85c" stroke="#68a04e" stroke-width="0.6"/>
<text transform="translate(220.25,356.6) rotate(-45)" font-size="6.2" fill="#222" stroke="#222" stroke-width="0.12" text-anchor="end">AML48</text>
<rect x="232.50" y="257.94" width="6.40" height="90.96" fill="#cbc6ca" stroke="#c4bfc3" stroke-width="0.6"/>
<rect x="239.50" y="268.08" width="6.40" height="80.82" fill="#74a85c" stroke="#68a04e" stroke-width="0.6"/>
<text transform="translate(235.90,356.6) rotate(-45)" font-size="6.2" fill="#222" stroke="#222" stroke-width="0.12" text-anchor="end">AML07</text>
<rect x="248.15" y="268.08" width="6.40" height="80.82" fill="#cbc6ca" stroke="#c4bfc3" stroke-width="0.6"/>
<rect x="255.15" y="288.36" width="6.40" height="60.54" fill="#74a85c" stroke="#68a04e" stroke-width="0.6"/>
<text transform="translate(251.55,356.6) rotate(-45)" font-size="6.2" fill="#222" stroke="#222" stroke-width="0.12" text-anchor="end">AML13</text>
<rect x="263.80" y="288.36" width="6.40" height="60.54" fill="#cbc6ca" stroke="#c4bfc3" stroke-width="0.6"/>
<rect x="270.80" y="308.64" width="6.40" height="40.26" fill="#74a85c" stroke="#68a04e" stroke-width="0.6"/>
<text transform="translate(267.20,356.6) rotate(-45)" font-size="6.2" fill="#222" stroke="#222" stroke-width="0.12" text-anchor="end">AML24</text>
<rect x="279.45" y="278.22" width="6.40" height="70.68" fill="#cbc6ca" stroke="#c4bfc3" stroke-width="0.6"/>
<rect x="286.45" y="303.57" width="6.40" height="45.33" fill="#74a85c" stroke="#68a04e" stroke-width="0.6"/>
<text transform="translate(282.85,356.6) rotate(-45)" font-size="6.2" fill="#222" stroke="#222" stroke-width="0.12" text-anchor="end">AML8450</text>
<rect x="295.10" y="308.64" width="6.40" height="40.26" fill="#cbc6ca" stroke="#c4bfc3" stroke-width="0.6"/>
<rect x="302.10" y="328.92" width="6.40" height="19.98" fill="#74a85c" stroke="#68a04e" stroke-width="0.6"/>
<text transform="translate(298.50,356.6) rotate(-45)" font-size="6.2" fill="#222" stroke="#222" stroke-width="0.12" text-anchor="end">AML22</text>
<rect x="310.75" y="298.50" width="6.40" height="50.40" fill="#cbc6ca" stroke="#c4bfc3" stroke-width="0.6"/>
<rect x="317.75" y="323.85" width="6.40" height="25.05" fill="#74a85c" stroke="#68a04e" stroke-width="0.6"/>
<text transform="translate(314.15,356.6) rotate(-45)" font-size="6.2" fill="#222" stroke="#222" stroke-width="0.12" text-anchor="end">AML58</text>
<rect x="326.40" y="293.43" width="6.40" height="55.47" fill="#cbc6ca" stroke="#c4bfc3" stroke-width="0.6"/>
<rect x="333.40" y="323.85" width="6.40" height="25.05" fill="#74a85c" stroke="#68a04e" stroke-width="0.6"/>
<text transform="translate(329.80,356.6) rotate(-45)" font-size="6.2" fill="#222" stroke="#222" stroke-width="0.12" text-anchor="end">AML33</text>
<rect x="342.05" y="288.36" width="6.40" height="60.54" fill="#cbc6ca" stroke="#c4bfc3" stroke-width="0.6"/>
<rect x="349.05" y="323.85" width="6.40" height="25.05" fill="#74a85c" stroke="#68a04e" stroke-width="0.6"/>
<text transform="translate(345.45,356.6) rotate(-45)" font-size="6.2" fill="#222" stroke="#222" stroke-width="0.12" text-anchor="end">AML27</text>
<rect x="357.70" y="318.78" width="6.40" height="30.12" fill="#cbc6ca" stroke="#c4bfc3" stroke-width="0.6"/>
<rect x="364.70" y="344.13" width="6.40" height="4.77" fill="#74a85c" stroke="#68a04e" stroke-width="0.6"/>
<text transform="translate(361.10,356.6) rotate(-45)" font-size="6.2" fill="#222" stroke="#222" stroke-width="0.12" text-anchor="end">AML59</text>
<line x1="32" y1="348.85" x2="380.5" y2="348.85" stroke="#555" stroke-width="1.4"/>
<line x1="155.4" y1="349" x2="155.4" y2="389.8" stroke="#444" stroke-width="1"/>
<line x1="380" y1="349" x2="380" y2="389.6" stroke="#555" stroke-width="1"/>
<text x="88.30" y="389.20" font-size="6.4" fill="#222"  text-anchor="middle" textLength="21.4" lengthAdjust="spacingAndGlyphs">Group B</text>
<text x="260.80" y="389.20" font-size="6.4" fill="#222"  text-anchor="middle" textLength="22.4" lengthAdjust="spacingAndGlyphs">Group A</text>
<rect x="313.3" y="227.5" width="7.9" height="7.8" fill="#cbc6ca" stroke="#c0bbbf" stroke-width="0.6"/>
<rect x="313.3" y="238.8" width="7.9" height="7.8" fill="#74a85c" stroke="#5f9a45" stroke-width="0.6"/>
<text x="324.60" y="233.40" font-size="5.6" fill="#222" stroke="#222" stroke-width="0.06" text-anchor="start" textLength="38.2" lengthAdjust="spacingAndGlyphs">Stable Mutations</text>
<text x="324.60" y="244.60" font-size="5.6" fill="#222" stroke="#222" stroke-width="0.06" text-anchor="start" textLength="22.4" lengthAdjust="spacingAndGlyphs">Gain/Loss</text>
<text x="379.00" y="15.80" font-size="9.6" fill="#222"  text-anchor="start" >C</text>
<text x="459.50" y="29.40" font-size="8.2" fill="#222"  text-anchor="middle" textLength="24.8" lengthAdjust="spacingAndGlyphs">AML38</text>
<line x1="410.5" y1="35.00" x2="410.5" y2="150.90" stroke="#3a3a3a" stroke-width="1"/>
<line x1="407" y1="150.60" x2="410.5" y2="150.60" stroke="#3a3a3a" stroke-width="0.8"/>
<text x="404.00" y="153.00" font-size="6.6" fill="#222"  text-anchor="end" textLength="11.0" lengthAdjust="spacingAndGlyphs">0.00</text>
<line x1="407" y1="112.80" x2="410.5" y2="112.80" stroke="#3a3a3a" stroke-width="0.8"/>
<text x="404.00" y="115.20" font-size="6.6" fill="#222"  text-anchor="end" textLength="11.0" lengthAdjust="spacingAndGlyphs">0.25</text>
<line x1="407" y1="75.00" x2="410.5" y2="75.00" stroke="#3a3a3a" stroke-width="0.8"/>
<text x="404.00" y="77.40" font-size="6.6" fill="#222"  text-anchor="end" textLength="11.0" lengthAdjust="spacingAndGlyphs">0.50</text>
<line x1="407" y1="37.20" x2="410.5" y2="37.20" stroke="#3a3a3a" stroke-width="0.8"/>
<text x="404.00" y="39.60" font-size="6.6" fill="#222"  text-anchor="end" textLength="11.0" lengthAdjust="spacingAndGlyphs">0.75</text>
<text transform="translate(386.2,93.30) rotate(-90)" font-size="8.2" fill="#222" text-anchor="middle" textLength="12.8" lengthAdjust="spacingAndGlyphs">VAF</text>
<line x1="418.4" y1="69.86" x2="500.2" y2="150.60" stroke="#355785" stroke-width="0.85"/>
<circle cx="418.4" cy="69.86" r="1.0" fill="#355785"/>
<circle cx="500.2" cy="150.60" r="1.0" fill="#355785"/>
<line x1="418.4" y1="71.37" x2="500.2" y2="150.60" stroke="#355785" stroke-width="0.85"/>
<circle cx="418.4" cy="71.37" r="1.0" fill="#355785"/>
<circle cx="500.2" cy="150.60" r="1.0" fill="#355785"/>
<line x1="418.4" y1="73.79" x2="500.2" y2="150.60" stroke="#355785" stroke-width="0.85"/>
<circle cx="418.4" cy="73.79" r="1.0" fill="#355785"/>
<circle cx="500.2" cy="150.60" r="1.0" fill="#355785"/>
<line x1="418.4" y1="76.51" x2="500.2" y2="150.60" stroke="#355785" stroke-width="0.85"/>
<circle cx="418.4" cy="76.51" r="1.0" fill="#355785"/>
<circle cx="500.2" cy="150.60" r="1.0" fill="#355785"/>
<line x1="418.4" y1="77.57" x2="500.2" y2="150.60" stroke="#355785" stroke-width="0.85"/>
<circle cx="418.4" cy="77.57" r="1.0" fill="#355785"/>
<circle cx="500.2" cy="150.60" r="1.0" fill="#355785"/>
<line x1="418.4" y1="78.63" x2="500.2" y2="150.60" stroke="#355785" stroke-width="0.85"/>
<circle cx="418.4" cy="78.63" r="1.0" fill="#355785"/>
<circle cx="500.2" cy="150.60" r="1.0" fill="#355785"/>
<line x1="418.4" y1="79.84" x2="500.2" y2="150.60" stroke="#355785" stroke-width="0.85"/>
<circle cx="418.4" cy="79.84" r="1.0" fill="#355785"/>
<circle cx="500.2" cy="150.60" r="1.0" fill="#355785"/>
<line x1="418.4" y1="80.90" x2="500.2" y2="150.60" stroke="#355785" stroke-width="0.85"/>
<circle cx="418.4" cy="80.90" r="1.0" fill="#355785"/>
<circle cx="500.2" cy="150.60" r="1.0" fill="#355785"/>
<line x1="418.4" y1="81.80" x2="500.2" y2="150.60" stroke="#355785" stroke-width="0.85"/>
<circle cx="418.4" cy="81.80" r="1.0" fill="#355785"/>
<circle cx="500.2" cy="150.60" r="1.0" fill="#355785"/>
<line x1="418.4" y1="82.71" x2="500.2" y2="150.60" stroke="#355785" stroke-width="0.85"/>
<circle cx="418.4" cy="82.71" r="1.0" fill="#355785"/>
<circle cx="500.2" cy="150.60" r="1.0" fill="#355785"/>
<line x1="418.4" y1="88.15" x2="500.2" y2="150.60" stroke="#355785" stroke-width="0.85"/>
<circle cx="418.4" cy="88.15" r="1.0" fill="#355785"/>
<circle cx="500.2" cy="150.60" r="1.0" fill="#355785"/>
<line x1="418.4" y1="89.82" x2="500.2" y2="150.60" stroke="#355785" stroke-width="0.85"/>
<circle cx="418.4" cy="89.82" r="1.0" fill="#355785"/>
<circle cx="500.2" cy="150.60" r="1.0" fill="#355785"/>
<line x1="418.4" y1="95.11" x2="500.2" y2="150.60" stroke="#355785" stroke-width="0.85"/>
<circle cx="418.4" cy="95.11" r="1.0" fill="#355785"/>
<circle cx="500.2" cy="150.60" r="1.0" fill="#355785"/>
<line x1="418.4" y1="103.58" x2="500.2" y2="150.60" stroke="#355785" stroke-width="0.85"/>
<circle cx="418.4" cy="103.58" r="1.0" fill="#355785"/>
<circle cx="500.2" cy="150.60" r="1.0" fill="#355785"/>
<line x1="418.4" y1="138.35" x2="500.2" y2="150.60" stroke="#355785" stroke-width="0.85"/>
<circle cx="418.4" cy="138.35" r="1.0" fill="#355785"/>
<circle cx="500.2" cy="150.60" r="1.0" fill="#355785"/>
<line x1="418.4" y1="72.58" x2="500.2" y2="150.60" stroke="#f0b534" stroke-width="0.9"/>
<circle cx="418.4" cy="72.58" r="1.0" fill="#f0b534"/>
<circle cx="500.2" cy="150.60" r="1.0" fill="#f0b534"/>
<line x1="418.4" y1="75.45" x2="500.2" y2="150.60" stroke="#f0b534" stroke-width="0.9"/>
<circle cx="418.4" cy="75.45" r="1.0" fill="#f0b534"/>
<circle cx="500.2" cy="150.60" r="1.0" fill="#f0b534"/>
<line x1="418.4" y1="132.46" x2="500.2" y2="150.60" stroke="#f0b534" stroke-width="0.9"/>
<circle cx="418.4" cy="132.46" r="1.0" fill="#f0b534"/>
<circle cx="500.2" cy="150.60" r="1.0" fill="#f0b534"/>
<line x1="418.4" y1="150.60" x2="500.2" y2="128.98" stroke="#ad2843" stroke-width="0.75"/>
<circle cx="418.4" cy="150.60" r="1.0" fill="#ad2843"/>
<circle cx="500.2" cy="128.98" r="1.0" fill="#ad2843"/>
<line x1="418.4" y1="150.60" x2="500.2" y2="133.67" stroke="#ad2843" stroke-width="0.75"/>
<circle cx="418.4" cy="150.60" r="1.0" fill="#ad2843"/>
<circle cx="500.2" cy="133.67" r="1.0" fill="#ad2843"/>
<line x1="418.4" y1="150.60" x2="500.2" y2="134.57" stroke="#ad2843" stroke-width="0.75"/>
<circle cx="418.4" cy="150.60" r="1.0" fill="#ad2843"/>
<circle cx="500.2" cy="134.57" r="1.0" fill="#ad2843"/>
<line x1="418.4" y1="150.60" x2="500.2" y2="135.63" stroke="#ad2843" stroke-width="0.75"/>
<circle cx="418.4" cy="150.60" r="1.0" fill="#ad2843"/>
<circle cx="500.2" cy="135.63" r="1.0" fill="#ad2843"/>
<line x1="418.4" y1="150.60" x2="500.2" y2="138.66" stroke="#ad2843" stroke-width="0.75"/>
<circle cx="418.4" cy="150.60" r="1.0" fill="#ad2843"/>
<circle cx="500.2" cy="138.66" r="1.0" fill="#ad2843"/>
<line x1="418.4" y1="150.60" x2="500.2" y2="139.56" stroke="#ad2843" stroke-width="0.75"/>
<circle cx="418.4" cy="150.60" r="1.0" fill="#ad2843"/>
<circle cx="500.2" cy="139.56" r="1.0" fill="#ad2843"/>
<line x1="418.4" y1="150.60" x2="500.2" y2="140.62" stroke="#ad2843" stroke-width="0.75"/>
<circle cx="418.4" cy="150.60" r="1.0" fill="#ad2843"/>
<circle cx="500.2" cy="140.62" r="1.0" fill="#ad2843"/>
<line x1="418.4" y1="150.60" x2="500.2" y2="142.59" stroke="#ad2843" stroke-width="0.75"/>
<circle cx="418.4" cy="150.60" r="1.0" fill="#ad2843"/>
<circle cx="500.2" cy="142.59" r="1.0" fill="#ad2843"/>
<line x1="407" y1="150.80" x2="508.4" y2="150.80" stroke="#4a4a4a" stroke-width="1.2"/>
<text x="405.50" y="162.80" font-size="6.2" fill="#222"  text-anchor="start" textLength="26.2" lengthAdjust="spacingAndGlyphs">Diagnosis</text>
<text x="490.20" y="162.80" font-size="6.2" fill="#222"  text-anchor="start" textLength="20.6" lengthAdjust="spacingAndGlyphs">Relapse</text>
<line x1="421" y1="171.20" x2="427" y2="171.20" stroke="#355785" stroke-width="0.9"/>
<circle cx="424" cy="171.20" r="0.9" fill="#355785"/>
<text x="429.80" y="173.00" font-size="5.4" fill="#555" stroke="#555" stroke-width="0.06" text-anchor="start" textLength="10" lengthAdjust="spacingAndGlyphs">Loss</text>
<line x1="445.3" y1="171.20" x2="451.3" y2="171.20" stroke="#ad2843" stroke-width="0.9"/>
<circle cx="448.3" cy="171.20" r="0.9" fill="#ad2843"/>
<text x="454.80" y="173.00" font-size="5.4" fill="#555" stroke="#555" stroke-width="0.06" text-anchor="start" textLength="10" lengthAdjust="spacingAndGlyphs">Gain</text>
<line x1="471.3" y1="171.20" x2="477.3" y2="171.20" stroke="#f0b534" stroke-width="0.9"/>
<circle cx="474.3" cy="171.20" r="0.9" fill="#f0b534"/>
<text x="480.20" y="173.00" font-size="5.4" fill="#555" stroke="#555" stroke-width="0.06" text-anchor="start" textLength="13.6" lengthAdjust="spacingAndGlyphs">Driver</text>
<text x="459.50" y="227.20" font-size="8.2" fill="#222"  text-anchor="middle" textLength="24.8" lengthAdjust="spacingAndGlyphs">AML27</text>
<line x1="410.5" y1="232.78" x2="410.5" y2="348.90" stroke="#3a3a3a" stroke-width="1"/>
<line x1="407" y1="348.60" x2="410.5" y2="348.60" stroke="#3a3a3a" stroke-width="0.8"/>
<text x="404.00" y="351.00" font-size="6.6" fill="#222"  text-anchor="end" textLength="11.0" lengthAdjust="spacingAndGlyphs">0.00</text>
<line x1="407" y1="310.73" x2="410.5" y2="310.73" stroke="#3a3a3a" stroke-width="0.8"/>
<text x="404.00" y="313.12" font-size="6.6" fill="#222"  text-anchor="end" textLength="11.0" lengthAdjust="spacingAndGlyphs">0.25</text>
<line x1="407" y1="272.85" x2="410.5" y2="272.85" stroke="#3a3a3a" stroke-width="0.8"/>
<text x="404.00" y="275.25" font-size="6.6" fill="#222"  text-anchor="end" textLength="11.0" lengthAdjust="spacingAndGlyphs">0.50</text>
<line x1="407" y1="234.98" x2="410.5" y2="234.98" stroke="#3a3a3a" stroke-width="0.8"/>
<text x="404.00" y="237.38" font-size="6.6" fill="#222"  text-anchor="end" textLength="11.0" lengthAdjust="spacingAndGlyphs">0.75</text>
<text transform="translate(386.2,291.60) rotate(-90)" font-size="8.2" fill="#222" text-anchor="middle" textLength="12.8" lengthAdjust="spacingAndGlyphs">VAF</text>
<line x1="418.4" y1="264.21" x2="500.2" y2="320.88" stroke="#c6c2c8" stroke-width="0.8"/>
<circle cx="418.4" cy="264.21" r="1.0" fill="#c6c2c8"/>
<circle cx="500.2" cy="320.88" r="1.0" fill="#c6c2c8"/>
<line x1="418.4" y1="268.76" x2="500.2" y2="323.60" stroke="#c6c2c8" stroke-width="0.8"/>
<circle cx="418.4" cy="268.76" r="1.0" fill="#c6c2c8"/>
<circle cx="500.2" cy="323.60" r="1.0" fill="#c6c2c8"/>
<line x1="418.4" y1="269.67" x2="500.2" y2="324.06" stroke="#c6c2c8" stroke-width="0.8"/>
<circle cx="418.4" cy="269.67" r="1.0" fill="#c6c2c8"/>
<circle cx="500.2" cy="324.06" r="1.0" fill="#c6c2c8"/>
<line x1="418.4" y1="273.15" x2="500.2" y2="324.66" stroke="#c6c2c8" stroke-width="0.8"/>
<circle cx="418.4" cy="273.15" r="1.0" fill="#c6c2c8"/>
<circle cx="500.2" cy="324.66" r="1.0" fill="#c6c2c8"/>
<line x1="418.4" y1="275.12" x2="500.2" y2="325.57" stroke="#c6c2c8" stroke-width="0.8"/>
<circle cx="418.4" cy="275.12" r="1.0" fill="#c6c2c8"/>
<circle cx="500.2" cy="325.57" r="1.0" fill="#c6c2c8"/>
<line x1="418.4" y1="279.67" x2="500.2" y2="326.63" stroke="#c6c2c8" stroke-width="0.8"/>
<circle cx="418.4" cy="279.67" r="1.0" fill="#c6c2c8"/>
<circle cx="500.2" cy="326.63" r="1.0" fill="#c6c2c8"/>
<line x1="418.4" y1="281.64" x2="500.2" y2="327.39" stroke="#c6c2c8" stroke-width="0.8"/>
<circle cx="418.4" cy="281.64" r="1.0" fill="#c6c2c8"/>
<circle cx="500.2" cy="327.39" r="1.0" fill="#c6c2c8"/>
<line x1="418.4" y1="283.76" x2="500.2" y2="328.91" stroke="#c6c2c8" stroke-width="0.8"/>
<circle cx="418.4" cy="283.76" r="1.0" fill="#c6c2c8"/>
<circle cx="500.2" cy="328.91" r="1.0" fill="#c6c2c8"/>
<line x1="418.4" y1="285.73" x2="500.2" y2="329.66" stroke="#c6c2c8" stroke-width="0.8"/>
<circle cx="418.4" cy="285.73" r="1.0" fill="#c6c2c8"/>
<circle cx="500.2" cy="329.66" r="1.0" fill="#c6c2c8"/>
<line x1="418.4" y1="288.15" x2="500.2" y2="331.18" stroke="#c6c2c8" stroke-width="0.8"/>
<circle cx="418.4" cy="288.15" r="1.0" fill="#c6c2c8"/>
<circle cx="500.2" cy="331.18" r="1.0" fill="#c6c2c8"/>
<line x1="418.4" y1="277.55" x2="500.2" y2="324.36" stroke="#f0b534" stroke-width="0.9"/>
<circle cx="418.4" cy="277.55" r="1.0" fill="#f0b534"/>
<circle cx="500.2" cy="324.36" r="1.0" fill="#f0b534"/>
<line x1="418.4" y1="290.27" x2="500.2" y2="329.66" stroke="#f0b534" stroke-width="0.9"/>
<circle cx="418.4" cy="290.27" r="1.0" fill="#f0b534"/>
<circle cx="500.2" cy="329.66" r="1.0" fill="#f0b534"/>
<line x1="418.4" y1="325.27" x2="500.2" y2="348.60" stroke="#355785" stroke-width="0.85"/>
<circle cx="418.4" cy="325.27" r="1.0" fill="#355785"/>
<circle cx="500.2" cy="348.60" r="1.0" fill="#355785"/>
<line x1="418.4" y1="339.36" x2="500.2" y2="348.60" stroke="#355785" stroke-width="0.85"/>
<circle cx="418.4" cy="339.36" r="1.0" fill="#355785"/>
<circle cx="500.2" cy="348.60" r="1.0" fill="#355785"/>
<line x1="418.4" y1="348.60" x2="500.2" y2="338.75" stroke="#ad2843" stroke-width="0.75"/>
<circle cx="418.4" cy="348.60" r="1.0" fill="#ad2843"/>
<circle cx="500.2" cy="338.75" r="1.0" fill="#ad2843"/>
<line x1="407" y1="348.80" x2="508.4" y2="348.80" stroke="#4a4a4a" stroke-width="1.2"/>
<text x="424.20" y="271.90" font-size="6" fill="#222" stroke="#222" stroke-width="0.06" text-anchor="start" textLength="20.6" lengthAdjust="spacingAndGlyphs">ZBTB7A</text>
<text x="425.80" y="305.60" font-size="6" fill="#222" stroke="#222" stroke-width="0.06" text-anchor="start" textLength="17" lengthAdjust="spacingAndGlyphs">ASXL2</text>
<text x="405.50" y="360.70" font-size="6.2" fill="#222"  text-anchor="start" textLength="26.2" lengthAdjust="spacingAndGlyphs">Diagnosis</text>
<text x="490.20" y="360.70" font-size="6.2" fill="#222"  text-anchor="start" textLength="20.6" lengthAdjust="spacingAndGlyphs">Relapse</text>
<line x1="405.8" y1="368.70" x2="411.8" y2="368.70" stroke="#c6c2c8" stroke-width="0.9"/>
<circle cx="408.8" cy="368.70" r="0.9" fill="#c6c2c8"/>
<text x="414.80" y="370.50" font-size="5.4" fill="#555" stroke="#555" stroke-width="0.06" text-anchor="start" textLength="13.8" lengthAdjust="spacingAndGlyphs">Stable</text>
<line x1="436" y1="368.70" x2="442" y2="368.70" stroke="#355785" stroke-width="0.9"/>
<circle cx="439" cy="368.70" r="0.9" fill="#355785"/>
<text x="445.00" y="370.50" font-size="5.4" fill="#555" stroke="#555" stroke-width="0.06" text-anchor="start" textLength="9.8" lengthAdjust="spacingAndGlyphs">Loss</text>
<line x1="460.6" y1="368.70" x2="466.6" y2="368.70" stroke="#ad2843" stroke-width="0.9"/>
<circle cx="463.6" cy="368.70" r="0.9" fill="#ad2843"/>
<text x="469.80" y="370.50" font-size="5.4" fill="#555" stroke="#555" stroke-width="0.06" text-anchor="start" textLength="10" lengthAdjust="spacingAndGlyphs">Gain</text>
<line x1="486.2" y1="368.70" x2="492.2" y2="368.70" stroke="#f0b534" stroke-width="0.9"/>
<circle cx="489.2" cy="368.70" r="0.9" fill="#f0b534"/>
<text x="495.00" y="370.50" font-size="5.4" fill="#555" stroke="#555" stroke-width="0.06" text-anchor="start" textLength="13.6" lengthAdjust="spacingAndGlyphs">Driver</text>
<rect x="0" y="0" width="520" height="1" fill="#4a4a4a"/>
<rect x="0" y="1" width="520" height="1" fill="#a6a6a6"/>
<rect x="0" y="396" width="520" height="1" fill="#4a4a4a"/>
<rect x="0" y="395" width="520" height="1" fill="#a0a0a0"/>
<rect x="0" y="1" width="1" height="395" fill="#0a0a0a"/>
<rect x="519" y="1" width="1" height="395" fill="#050505"/>
</svg>
</body></html>
